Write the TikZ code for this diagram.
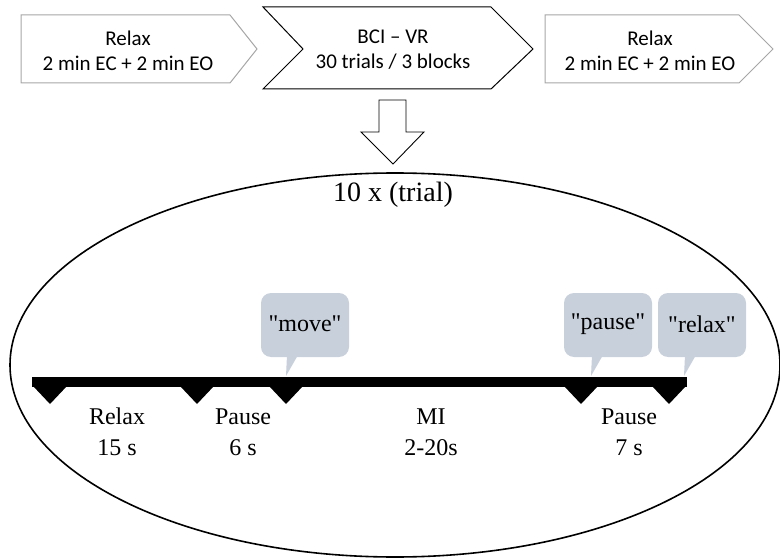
\documentclass[tikz,border=0pt]{standalone}
\usepackage{fontspec}
\usepackage{tikz}
\setmainfont{Liberation Serif}[Ligatures=TeXOff]
\newfontfamily\boxfont{Carlito}
\definecolor{bubble}{RGB}{200,208,219}
\definecolor{frame}{RGB}{166,166,166}
\newcommand{\drawthick}{\draw[line width=1.6pt]}
\newcommand{\boxlabel}[3]{\node[font=\boxfont\fontsize{21}{25}\selectfont, align=center] (#1) at (#2) {#3};}
\newcommand{\phaselabel}[3]{\node[font=\fontsize{24}{31}\selectfont, align=center] (#1) at (#2) {#3};}
\newcommand{\speechbubble}[4]{
    \fill[bubble, rounded corners=10pt] (#2,293) rectangle ++(88,64);
    \fill[bubble] (#3,355)--++(11,0)--(#3-1,376)--cycle;
    \node[font=\fontsize{24}{26}\selectfont] (#1) at (#2+44,324) {#4};
}

\begin{document}
\begin{tikzpicture}[x=1pt, y=-1pt]
\useasboundingbox (0,0) rectangle (780,559);
\draw[frame, fill=white, line width=1pt] (21,15)--++(209,0)--++(27,34)--++(-27,34)--++(-209,0)--cycle;
    \draw[line width=1pt] (263,7)--++(228,0)--++(42,42)--++(-42,40)--++(-228,0)--++(40,-40)--cycle;
    \draw[frame, fill=white, line width=1pt] (545,15)--++(194,0)--++(34,34)--++(-34,34)--++(-194,0)--cycle;
    \draw[line width=0.9pt, fill=white] (379,100)--++(27,0)--++(0,32)--++(18,0)--(393,164)--(361,132)--++(18,0)--cycle;
    \drawthick (395,365) ellipse [x radius=385pt, y radius=192pt];
    \fill (32,377) rectangle (687,387);
    \foreach \x in {50,197,286,581,669}{
    \fill (\x-17,386)--++(34,0)--(\x,404)--cycle;
    }
\boxlabel{relaxpre}{128,51}{Relax\\2 min EC + 2 min EO}\boxlabel{bcivr}{393,50}{BCI – VR\\30 trials / 3 blocks}\boxlabel{relaxpost}{650,51}{Relax\\2 min EC + 2 min EO}
\node[font=\fontsize{28}{30}\selectfont] (trial) at (393,195) {10 x (trial)};
\phaselabel{relaxlab}{117,432}{Relax\\15 s}\phaselabel{pauselab}{243,432}{Pause\\6 s}\phaselabel{milab}{431,432}{MI\\2-20s}\phaselabel{pauselabb}{629,432}{Pause\\7 s}
\speechbubble{move}{261}{287}{"move"}\speechbubble{pause}{564}{592}{"pause"}\speechbubble{relax}{658}{685}{"relax"}
\end{tikzpicture}
\end{document}
